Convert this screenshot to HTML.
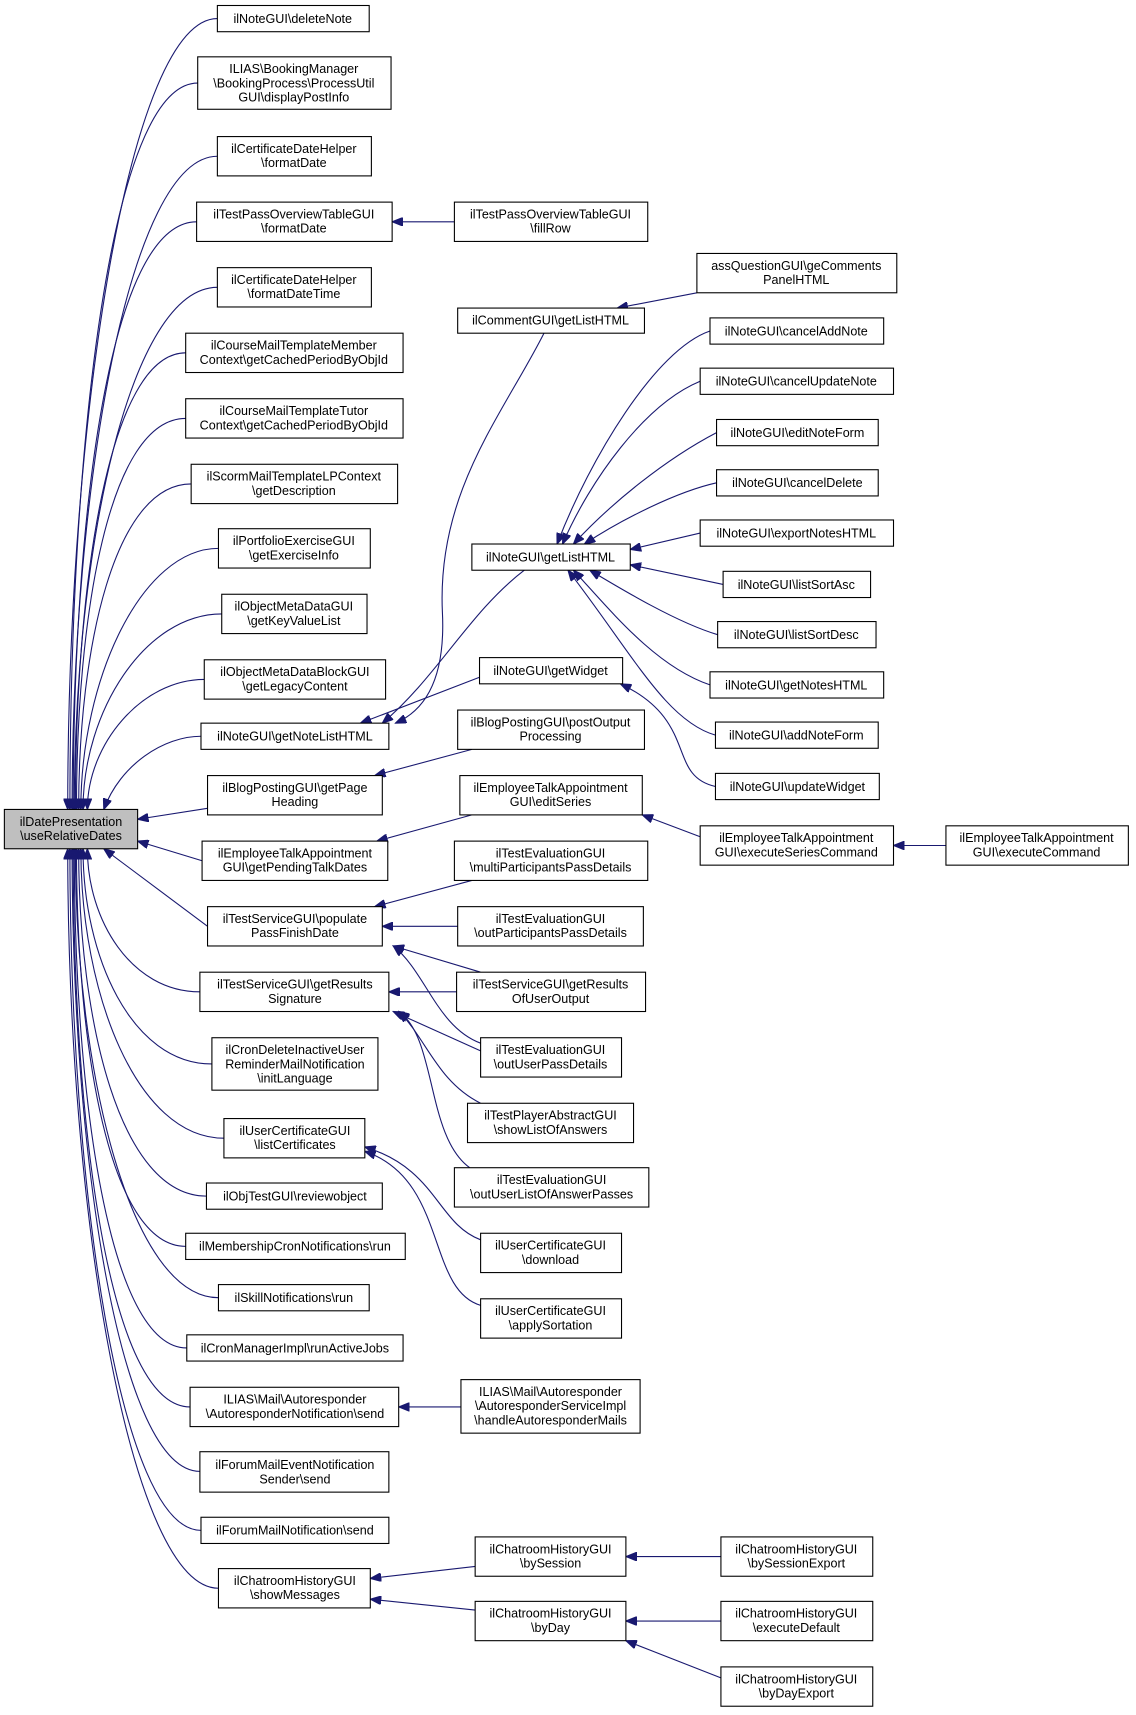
<!DOCTYPE html>
<html><head><meta charset="utf-8"><style>html,body{margin:0;padding:0;background:#fff}svg{display:block}</style></head>
<body>
<svg width="1136" height="1715" viewBox="0 0 1040 1570" xmlns="http://www.w3.org/2000/svg" font-family="Liberation Sans, sans-serif" font-size="11.5">
<defs><marker id="a" markerUnits="userSpaceOnUse" markerWidth="11" markerHeight="8" refX="10" refY="4" orient="auto"><path d="M0,0 L10,4 L0,8 z" fill="#191970" stroke="#191970"/></marker></defs>
<g fill="none" stroke="#191970" stroke-width="1" marker-end="url(#a)">
<path d="M199,17 C119,17 62,379 62,741"/>
<path d="M181,76 C101,76 64,408 64,741"/>
<path d="M199,143 C119,143 66,442 66,741"/>
<path d="M180,203 C100,203 67,472 67,741"/>
<path d="M199,263 C119,263 68,502 68,741"/>
<path d="M170,323 C100,323 69,532 69,741"/>
<path d="M170,383 C100,383 70,562 70,741"/>
<path d="M175,443 C105,443 72,592 72,741"/>
<path d="M200,502 C130,502 74,621 74,741"/>
<path d="M203,562 C133,562 76,651 76,741"/>
<path d="M187,622 C130,622 80,681 80,741"/>
<path d="M184,674 C150,674 110,700 95,741"/>
<path d="M190,740 L126,750"/>
<path d="M185,788 L126,770"/>
<path d="M190,848 L95,777"/>
<path d="M183,908 C120,908 80,842 80,777"/>
<path d="M194,974 C120,974 76,875 76,777"/>
<path d="M205,1042 C125,1042 74,909 74,777"/>
<path d="M189,1095 C110,1095 72,936 72,777"/>
<path d="M170,1141 C100,1141 70,959 70,777"/>
<path d="M200,1188 C120,1188 69,982 69,777"/>
<path d="M171,1234 C100,1234 68,1005 68,777"/>
<path d="M174,1288 C100,1288 67,1032 67,777"/>
<path d="M183,1347 C110,1347 66,1062 66,777"/>
<path d="M184,1401 C110,1401 64,1089 64,777"/>
<path d="M200,1454 C120,1454 62,1115 62,777"/>
<path d="M416,203 L359,203"/>
<path d="M498,305 C460,380 400,450 405,560 C408,620 390,650 362,662"/>
<path d="M480,522 C430,560 400,620 350,662"/>
<path d="M439,620 L330,662"/>
<path d="M638,268 L565,282"/>
<path d="M650,303 C600,320 540,420 510,498"/>
<path d="M641,349 C590,370 540,440 515,498"/>
<path d="M656,396 C610,420 560,460 525,498"/>
<path d="M656,442 C620,450 570,475 535,498"/>
<path d="M641,488 L577,503"/>
<path d="M662,535 L577,517"/>
<path d="M657,581 C620,570 570,540 540,522"/>
<path d="M650,627 C600,610 560,560 525,522"/>
<path d="M655,673 C610,660 580,600 520,522"/>
<path d="M655,720 C610,710 640,660 568,626"/>
<path d="M432,686 L343,710"/>
<path d="M432,746 L345,770"/>
<path d="M641,766 L588,746"/>
<path d="M866,774 L818,774"/>
<path d="M432,806 L343,830"/>
<path d="M419,848 L350,848"/>
<path d="M440,890 L360,866"/>
<path d="M440,955 C400,940 390,890 360,866"/>
<path d="M418,908 L356,908"/>
<path d="M440,962 L360,926"/>
<path d="M440,1010 C400,990 390,950 365,926"/>
<path d="M430,1069 C390,1040 400,950 365,926"/>
<path d="M440,1135 C400,1120 400,1070 334,1050"/>
<path d="M440,1195 C390,1180 410,1080 334,1054"/>
<path d="M422,1288 L365,1288"/>
<path d="M435,1434 L339,1445"/>
<path d="M435,1474 L339,1464"/>
<path d="M660,1425 L573,1425"/>
<path d="M660,1484 L573,1484"/>
<path d="M660,1536 L573,1502"/>
</g>
<g stroke="#000" stroke-width="1" fill="#fff">
<rect x="4" y="741" width="122" height="36" fill="#bfbfbf"/>
<rect x="199" y="5" width="139" height="24"/>
<rect x="181" y="52" width="177" height="48"/>
<rect x="199" y="125" width="141" height="36"/>
<rect x="180" y="185" width="179" height="36"/>
<rect x="199" y="245" width="141" height="36"/>
<rect x="170" y="305" width="199" height="36"/>
<rect x="170" y="365" width="199" height="36"/>
<rect x="175" y="425" width="189" height="36"/>
<rect x="200" y="484" width="139" height="36"/>
<rect x="203" y="544" width="133" height="36"/>
<rect x="187" y="604" width="166" height="36"/>
<rect x="184" y="662" width="172" height="24"/>
<rect x="190" y="710" width="160" height="36"/>
<rect x="185" y="770" width="170" height="36"/>
<rect x="190" y="830" width="160" height="36"/>
<rect x="183" y="890" width="173" height="36"/>
<rect x="194" y="950" width="152" height="48"/>
<rect x="205" y="1024" width="129" height="36"/>
<rect x="189" y="1083" width="161" height="24"/>
<rect x="170" y="1129" width="201" height="24"/>
<rect x="200" y="1176" width="138" height="24"/>
<rect x="171" y="1222" width="198" height="24"/>
<rect x="174" y="1270" width="191" height="36"/>
<rect x="183" y="1329" width="173" height="37"/>
<rect x="184" y="1389" width="172" height="24"/>
<rect x="200" y="1436" width="139" height="36"/>
<rect x="416" y="185" width="177" height="36"/>
<rect x="419" y="282" width="171" height="23"/>
<rect x="432" y="498" width="145" height="24"/>
<rect x="439" y="602" width="131" height="24"/>
<rect x="419" y="650" width="171" height="36"/>
<rect x="421" y="710" width="167" height="36"/>
<rect x="416" y="770" width="177" height="36"/>
<rect x="419" y="830" width="170" height="36"/>
<rect x="418" y="890" width="173" height="36"/>
<rect x="440" y="950" width="129" height="36"/>
<rect x="428" y="1010" width="152" height="36"/>
<rect x="416" y="1069" width="178" height="36"/>
<rect x="440" y="1129" width="129" height="36"/>
<rect x="440" y="1189" width="129" height="36"/>
<rect x="422" y="1263" width="164" height="49"/>
<rect x="435" y="1407" width="138" height="36"/>
<rect x="435" y="1466" width="138" height="36"/>
<rect x="638" y="232" width="183" height="36"/>
<rect x="650" y="291" width="159" height="24"/>
<rect x="641" y="337" width="177" height="24"/>
<rect x="656" y="384" width="148" height="24"/>
<rect x="656" y="430" width="148" height="24"/>
<rect x="641" y="476" width="177" height="24"/>
<rect x="662" y="523" width="135" height="24"/>
<rect x="657" y="569" width="145" height="24"/>
<rect x="650" y="615" width="159" height="24"/>
<rect x="655" y="661" width="149" height="24"/>
<rect x="655" y="708" width="150" height="24"/>
<rect x="641" y="756" width="177" height="36"/>
<rect x="660" y="1407" width="139" height="36"/>
<rect x="660" y="1466" width="139" height="36"/>
<rect x="660" y="1526" width="139" height="36"/>
<rect x="866" y="756" width="167" height="36"/>
</g>
<g fill="#000" text-anchor="middle">
<text x="65" y="756">ilDatePresentation</text><text x="65" y="769">\useRelativeDates</text>
<text x="268" y="21">ilNoteGUI\deleteNote</text>
<text x="269" y="67">ILIAS\BookingManager</text><text x="269" y="80">\BookingProcess\ProcessUtil</text><text x="269" y="93">GUI\displayPostInfo</text>
<text x="269" y="140">ilCertificateDateHelper</text><text x="269" y="153">\formatDate</text>
<text x="269" y="200">ilTestPassOverviewTableGUI</text><text x="269" y="213">\formatDate</text>
<text x="269" y="260">ilCertificateDateHelper</text><text x="269" y="273">\formatDateTime</text>
<text x="269" y="320">ilCourseMailTemplateMember</text><text x="269" y="333">Context\getCachedPeriodByObjId</text>
<text x="269" y="380">ilCourseMailTemplateTutor</text><text x="269" y="393">Context\getCachedPeriodByObjId</text>
<text x="269" y="440">ilScormMailTemplateLPContext</text><text x="269" y="453">\getDescription</text>
<text x="269" y="499">ilPortfolioExerciseGUI</text><text x="269" y="512">\getExerciseInfo</text>
<text x="269" y="559">ilObjectMetaDataGUI</text><text x="269" y="572">\getKeyValueList</text>
<text x="270" y="619">ilObjectMetaDataBlockGUI</text><text x="270" y="632">\getLegacyContent</text>
<text x="270" y="678">ilNoteGUI\getNoteListHTML</text>
<text x="270" y="725">ilBlogPostingGUI\getPage</text><text x="270" y="738">Heading</text>
<text x="270" y="785">ilEmployeeTalkAppointment</text><text x="270" y="798">GUI\getPendingTalkDates</text>
<text x="270" y="845">ilTestServiceGUI\populate</text><text x="270" y="858">PassFinishDate</text>
<text x="270" y="905">ilTestServiceGUI\getResults</text><text x="270" y="918">Signature</text>
<text x="270" y="965">ilCronDeleteInactiveUser</text><text x="270" y="978">ReminderMailNotification</text><text x="270" y="991">\initLanguage</text>
<text x="270" y="1039">ilUserCertificateGUI</text><text x="270" y="1052">\listCertificates</text>
<text x="270" y="1099">ilObjTestGUI\reviewobject</text>
<text x="270" y="1145">ilMembershipCronNotifications\run</text>
<text x="269" y="1192">ilSkillNotifications\run</text>
<text x="270" y="1238">ilCronManagerImpl\runActiveJobs</text>
<text x="270" y="1285">ILIAS\Mail\Autoresponder</text><text x="270" y="1298">\AutoresponderNotification\send</text>
<text x="270" y="1345">ilForumMailEventNotification</text><text x="270" y="1358">Sender\send</text>
<text x="270" y="1405">ilForumMailNotification\send</text>
<text x="270" y="1451">ilChatroomHistoryGUI</text><text x="270" y="1464">\showMessages</text>
<text x="504" y="200">ilTestPassOverviewTableGUI</text><text x="504" y="213">\fillRow</text>
<text x="504" y="297">ilCommentGUI\getListHTML</text>
<text x="504" y="514">ilNoteGUI\getListHTML</text>
<text x="504" y="618">ilNoteGUI\getWidget</text>
<text x="504" y="665">ilBlogPostingGUI\postOutput</text><text x="504" y="678">Processing</text>
<text x="504" y="725">ilEmployeeTalkAppointment</text><text x="504" y="738">GUI\editSeries</text>
<text x="504" y="785">ilTestEvaluationGUI</text><text x="504" y="798">\multiParticipantsPassDetails</text>
<text x="504" y="845">ilTestEvaluationGUI</text><text x="504" y="858">\outParticipantsPassDetails</text>
<text x="504" y="905">ilTestServiceGUI\getResults</text><text x="504" y="918">OfUserOutput</text>
<text x="504" y="965">ilTestEvaluationGUI</text><text x="504" y="978">\outUserPassDetails</text>
<text x="504" y="1025">ilTestPlayerAbstractGUI</text><text x="504" y="1038">\showListOfAnswers</text>
<text x="505" y="1084">ilTestEvaluationGUI</text><text x="505" y="1097">\outUserListOfAnswerPasses</text>
<text x="504" y="1144">ilUserCertificateGUI</text><text x="504" y="1157">\download</text>
<text x="504" y="1204">ilUserCertificateGUI</text><text x="504" y="1217">\applySortation</text>
<text x="504" y="1278">ILIAS\Mail\Autoresponder</text><text x="504" y="1291">\AutoresponderServiceImpl</text><text x="504" y="1304">\handleAutoresponderMails</text>
<text x="504" y="1422">ilChatroomHistoryGUI</text><text x="504" y="1435">\bySession</text>
<text x="504" y="1481">ilChatroomHistoryGUI</text><text x="504" y="1494">\byDay</text>
<text x="729" y="247">assQuestionGUI\geComments</text><text x="729" y="260">PanelHTML</text>
<text x="729" y="307">ilNoteGUI\cancelAddNote</text>
<text x="729" y="353">ilNoteGUI\cancelUpdateNote</text>
<text x="730" y="400">ilNoteGUI\editNoteForm</text>
<text x="730" y="446">ilNoteGUI\cancelDelete</text>
<text x="729" y="492">ilNoteGUI\exportNotesHTML</text>
<text x="729" y="539">ilNoteGUI\listSortAsc</text>
<text x="729" y="585">ilNoteGUI\listSortDesc</text>
<text x="729" y="631">ilNoteGUI\getNotesHTML</text>
<text x="729" y="677">ilNoteGUI\addNoteForm</text>
<text x="730" y="724">ilNoteGUI\updateWidget</text>
<text x="729" y="771">ilEmployeeTalkAppointment</text><text x="729" y="784">GUI\executeSeriesCommand</text>
<text x="729" y="1422">ilChatroomHistoryGUI</text><text x="729" y="1435">\bySessionExport</text>
<text x="729" y="1481">ilChatroomHistoryGUI</text><text x="729" y="1494">\executeDefault</text>
<text x="729" y="1541">ilChatroomHistoryGUI</text><text x="729" y="1554">\byDayExport</text>
<text x="949" y="771">ilEmployeeTalkAppointment</text><text x="949" y="784">GUI\executeCommand</text>
</g>
</svg>
</body></html>
